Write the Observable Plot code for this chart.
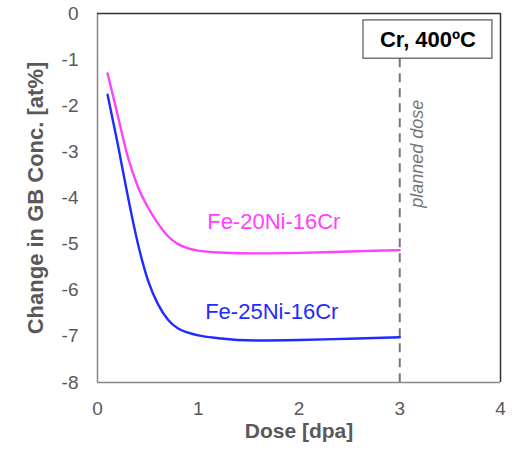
<!DOCTYPE html>
<html><head><meta charset="utf-8">
<script src="https://cdn.jsdelivr.net/npm/d3@7"></script>
<script src="https://cdn.jsdelivr.net/npm/@observablehq/plot@0.6"></script>
<style>body{margin:0;background:#fff;font-family:"Liberation Sans",Arial,sans-serif}</style>
</head><body><div id="chart"></div>
<script>
const doseFe20 = [0.1, 0.2, 0.3, 0.4, 0.5, 0.6, 0.7, 0.8, 0.9, 1.0, 1.2, 1.6, 2.0, 2.5, 3.0];
const changeFe20 = [-1.3, -2.2, -3.1, -3.75, -4.2, -4.55, -4.83, -5.0, -5.09, -5.14, -5.18, -5.2, -5.19, -5.16, -5.13];
const doseFe25 = [0.1, 0.2, 0.3, 0.4, 0.5, 0.6, 0.7, 0.8, 0.9, 1.0, 1.2, 1.6, 2.0, 2.5, 3.0];
const changeFe25 = [-1.76, -2.82, -3.95, -4.98, -5.78, -6.3, -6.64, -6.83, -6.92, -6.98, -7.04, -7.09, -7.08, -7.05, -7.02];
const seriesNames = ["Fe-20Ni-16Cr", "Fe-25Ni-16Cr"];
const xTicks = [0, 1, 2, 3, 4];
const yTicks = [0, -1, -2, -3, -4, -5, -6, -7, -8];
const plannedDose = 3;
const boxLabel = "Cr, 400ºC";

const fe20 = doseFe20.map((d, i) => ({dose: d, value: changeFe20[i]}));
const fe25 = doseFe25.map((d, i) => ({dose: d, value: changeFe25[i]}));
const magenta = "#ff40ff", blue = "#1f2bff", gray = "#595959";
const fmt = d => String(d);

const chart = Plot.plot({
  width: 518, height: 451,
  marginLeft: 97, marginRight: 18, marginTop: 13, marginBottom: 69,
  style: {fontFamily: '"Liberation Sans", Arial, sans-serif', background: "transparent"},
  x: {domain: [0, 4]},
  y: {domain: [-8, 0]},
  marks: [
    Plot.ruleX([0], {stroke: "#888", strokeWidth: 1.5}),
    Plot.ruleY([-8], {stroke: "#888", strokeWidth: 1.5}),
    Plot.ruleY([0], {stroke: "#333", strokeWidth: 1.5}),
    Plot.ruleX([4], {stroke: "#333", strokeWidth: 1.5}),
    Plot.axisX({ticks: xTicks, tickFormat: fmt, tickSize: 0, tickPadding: 19, fontSize: 19, color: gray, label: null}),
    Plot.axisY({ticks: yTicks, tickFormat: fmt, tickSize: 0, tickPadding: 19, fontSize: 19, color: gray, label: null}),
    Plot.ruleX([plannedDose], {y1: -0.98, y2: -8, stroke: "#777", strokeWidth: 2, strokeDasharray: "9,6"}),
    Plot.line(fe20, {x: "dose", y: "value", stroke: magenta, strokeWidth: 2.4, curve: "monotone-x"}),
    Plot.line(fe25, {x: "dose", y: "value", stroke: blue, strokeWidth: 2.4, curve: "monotone-x"}),
    Plot.text([seriesNames[0]], {x: 1.75, y: -4.51, text: d => d, fill: magenta, fontSize: 22}),
    Plot.text([seriesNames[1]], {x: 1.73, y: -6.47, text: d => d, fill: blue, fontSize: 22}),
    Plot.rect([boxLabel], {x1: 2.64, x2: 3.92, y1: -0.15, y2: -0.98, fill: "white", stroke: "#555", strokeWidth: 1.2}),
    Plot.text([boxLabel], {x: 3.28, y: -0.57, text: d => d, fontSize: 22, fontWeight: "bold", fill: "#000"}),
    Plot.text(["planned dose"], {x: 3.17, y: -3.04, text: d => d, rotate: -90, fontSize: 18, fontStyle: "italic", fill: "#777"}),
    Plot.text(["Dose [dpa]"], {frameAnchor: "bottom", dy: 55, text: d => d, fontSize: 21, fontWeight: "bold", fill: gray}),
    Plot.text(["Change in GB Conc. [at%]"], {frameAnchor: "left", textAnchor: "middle", dx: -62, rotate: -90, text: d => d, fontSize: 22, fontWeight: "bold", fill: gray})
  ]
});
document.getElementById("chart").appendChild(chart);
</script></body></html>
